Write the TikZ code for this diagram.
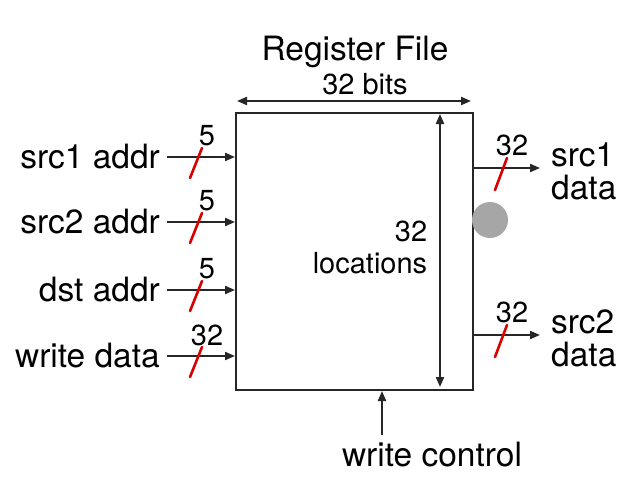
\documentclass[tikz,border=0pt]{standalone}
\usepackage{fontspec}
\setmainfont{TeX Gyre Heros}
\usetikzlibrary{arrows.meta,calc}
\begin{document}
\begin{tikzpicture}[x=1pt,y=-1pt,
  wire/.style={line width=2pt,draw=black!85,-{Triangle[length=10pt,width=8pt]}},
  dbl/.style={line width=2pt,draw=black!85,{Triangle[length=10pt,width=8pt]}-{Triangle[length=10pt,width=8pt]}},
  slash/.style={line width=2.6pt,draw=red!85!black,line cap=round},
  lbl/.style={font=\fontsize{33.5}{35}\selectfont,inner sep=3pt},
  num/.style={font=\fontsize{29}{30}\selectfont,inner sep=0pt},
]
\useasboundingbox (0,0) rectangle (641,498);
\fill[white] (0,0) rectangle (641,498);
% register file box
\node[draw=black!85,line width=2pt,minimum width=237pt,minimum height=277pt,anchor=north west,inner sep=0pt] (rf) at (235,112) {};
\node[lbl] (title) at (355,52) {Register File};
\node[lbl,font=\fontsize{29}{31}\selectfont] (bits) at (365,84) {32 bits};
\coordinate (tl) at (237,101);
\coordinate (tr) at (471,101);
\draw[dbl] (tl) -- (tr);
% locations arrow
\coordinate (vt) at (440,114);
\coordinate (vb) at (440,387);
\draw[dbl] (vt) -- (vb);
\node[lbl,align=right,font=\fontsize{29}{32}\selectfont] (loc) at (370,247) {32\\locations};
% inputs
\foreach \nm/\y/\t/\w in {a/157/src1 addr/5, b/222/src2 addr/5, c/290/dst addr/5, d/356/write data/32}{
  \node[lbl,anchor=east,inner xsep=7pt] (in\nm) at (167,\y) {\t};
  \draw[wire] (in\nm.east) -- (in\nm.east -| rf.west);
  \coordinate (s\nm1) at (190,\y+21);
  \coordinate (s\nm2) at (202,\y-9);
  \draw[slash] (s\nm1) -- (s\nm2);
  \node[num] (n\nm) at (207,\y-21) {\w};
}
% outputs
\foreach \nm/\y/\t in {e/168/src1, f/335/src2}{
  \coordinate (o\nm) at (rf.east |- 0,\y);
  \coordinate (oe\nm) at (540,\y);
  \draw[wire] (o\nm) -- (oe\nm);
  \coordinate (t\nm1) at (495,\y+22);
  \coordinate (t\nm2) at (507,\y-10);
  \draw[slash] (t\nm1) -- (t\nm2);
  \node[num] (m\nm) at (512,\y-23) {32};
  \node[lbl,align=left,anchor=west,font=\fontsize{33.5}{33}\selectfont] (out\nm) at (548,\y+3) {\t\\data};
}
% write control
\node[lbl] (wc) at (432,455) {write control};
\coordinate (wcs) at (382,435);
\draw[wire] (wcs) -- (wcs |- rf.south);
% grey dot
\fill[black!35] (490,220) circle (18);
\end{tikzpicture}
\end{document}
